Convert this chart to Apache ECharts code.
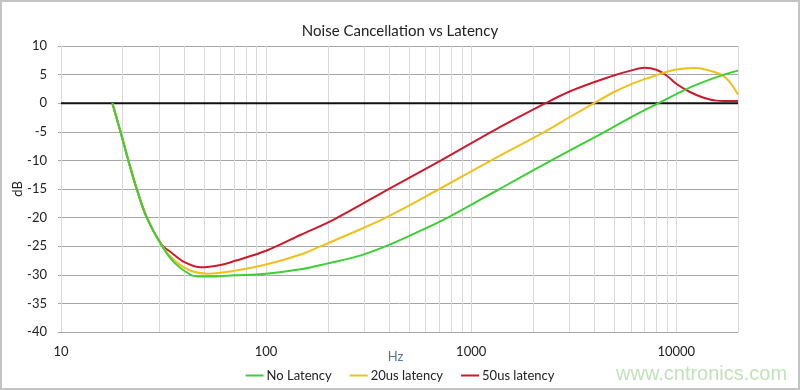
<!DOCTYPE html>
<html>
<head>
<meta charset="utf-8">
<script src="https://cdn.jsdelivr.net/npm/echarts@6/dist/echarts.min.js"></script>
<style>
html,body{margin:0;padding:0;background:#fff;}
#chart{width:800px;height:390px;}
</style>
</head>
<body>
<div id="chart"></div>
<script>
// Frequencies (Hz) and dB values
var noLatency = [
  [17.8,0],[19.5,-5],[21.3,-10],[23.4,-15],[26.2,-20],[31.1,-25],[36,-28],[42.9,-30],[48,-30.3],
  [55,-30.3],[70,-30.1],[100,-29.8],[150,-29.0],[200,-28.0],[290,-26.6],[384,-25],[550,-22.5],
  [769,-20],[1375,-15],[2460,-10],[4325,-5.3],[5150,-3.8],[6000,-2.5],[7000,-1.2],[8200,0],
  [10000,1.6],[12500,3.2],[16800,4.9],[20000,5.7]
];
var latency20 = [
  [17.8,0],[19.5,-5],[21.3,-10],[23.4,-15],[26.2,-20],[31.2,-25],[36,-27.6],[43,-29.3],[52,-29.8],
  [70,-29.3],[100,-28.2],[147.6,-26.45],[185,-25],[250,-23.0],[384,-20],[700,-15],[1253,-10],
  [2280,-5],[3000,-2.5],[3970,0],[5000,2.0],[6000,3.3],[7000,4.2],[8000,4.9],[9000,5.5],
  [10000,5.9],[12500,6.15],[14500,5.7],[16800,4.9],[18500,3.4],[20000,1.5]
];
var latency50 = [
  [17.8,0],[19.5,-5],[21.3,-10],[23.4,-15],[26.2,-20],[31.1,-24.8],[34.2,-26],[40,-27.8],[48,-28.7],
  [60,-28.3],[70,-27.6],[100,-25.8],[147.6,-23.0],[215,-20.3],[406,-14.8],[713,-10],[1300,-4.7],
  [2306,0],[3000,2.0],[4000,3.7],[5000,4.9],[6000,5.7],[7000,6.2],[8000,5.85],[9000,4.8],
  [10000,3.4],[11600,2.0],[13500,1.0],[15700,0.45],[17000,0.4],[20000,0.4]
];
var zeroLine = [[10,0],[20000,0]];
var minorFreqs = [20,30,40,50,60,70,80,90,200,300,400,500,600,700,800,900,
                  2000,3000,4000,5000,6000,7000,8000,9000];
var seriesNames = ['No Latency','20us latency','50us latency'];
var seriesColors = ['#3ccf36','#f0c01c','#cc1a2e'];

var FONT = 'Lato, "Open Sans", sans-serif';
var chart = echarts.init(document.getElementById('chart'), null, {renderer:'canvas'});

function curve(name, data, color, z){
  return {
    name: name, type: 'line', data: data, smooth: 0.35, symbol: 'none', z: z,
    lineStyle: {color: color, width: 2}, itemStyle: {color: color}
  };
}

chart.setOption({
  animation: false,
  backgroundColor: '#ffffff',
  title: {
    text: 'Noise Cancellation vs Latency', left: 'center', top: 19,
    textStyle: {fontFamily: FONT, fontSize: 15, fontWeight: 'normal', color: '#222'}
  },
  grid: {left: 61, right: 62, top: 46, bottom: 58},
  legend: {
    data: seriesNames, left: 'center', top: 364, icon: 'rect',
    itemWidth: 18, itemHeight: 2, itemGap: 18,
    textStyle: {fontFamily: FONT, fontSize: 13, color: '#222', padding: [0,0,0,-2]}
  },
  xAxis: {
    type: 'log', logBase: 10, min: 10, max: 20000,
    name: 'Hz', nameLocation: 'middle', nameGap: 18, nameMoveOverlap: false,
    nameTextStyle: {fontFamily: FONT, fontSize: 13, color: '#56769c', padding:[0,8,0,0]},
    axisLine: {show: false}, axisTick: {show: false},
    axisLabel: {fontFamily: FONT, fontSize: 13, color: '#222', margin: 13, showMaxLabel: false,
      formatter: function(v){ return String(Math.round(v)); }},
    splitLine: {show: true, lineStyle: {color: '#d9d9d9', width: 1}}
  },
  yAxis: {
    type: 'value', min: -40, max: 10, interval: 5,
    name: 'dB', nameLocation: 'middle', nameGap: 37, nameRotate: 90, nameMoveOverlap: false,
    nameTextStyle: {fontFamily: FONT, fontSize: 13, color: '#222'},
    axisLine: {show: false},
    axisTick: {show: true, length: 3, lineStyle: {color: '#a6a6a6'}},
    axisLabel: {fontFamily: FONT, fontSize: 13, color: '#222', margin: 14},
    splitLine: {show: true, lineStyle: {color: '#a6a6a6', width: 1}}
  },
  series: [
    {
      name: 'zero', type: 'line', data: zeroLine, symbol: 'none', z: 2, silent: true,
      lineStyle: {color: '#111', width: 2}, itemStyle: {color: '#111'},
      markLine: {
        silent: true, symbol: ['none','none'], label: {show: false}, z: 1,
        lineStyle: {color: '#d9d9d9', width: 1, type: 'solid'},
        data: minorFreqs.map(function(f){ return {xAxis: f}; })
      }
    },
    curve(seriesNames[0], noLatency, seriesColors[0], 6),
    curve(seriesNames[1], latency20, seriesColors[1], 5),
    curve(seriesNames[2], latency50, seriesColors[2], 4)
  ],
  graphic: [
    {type: 'rect', silent: true, z: 100,
     shape: {x: 1, y: 1, width: 798, height: 388},
     style: {fill: 'none', stroke: '#c4c4c4', lineWidth: 2}},
    {type: 'text', left: 616, top: 364, silent: true, z: 50,
     style: {text: 'www.cntronics.com', fill: '#c3e2bb', font: '20px "Liberation Sans", Arial, sans-serif'}}
  ]
});
</script>
</body>
</html>
